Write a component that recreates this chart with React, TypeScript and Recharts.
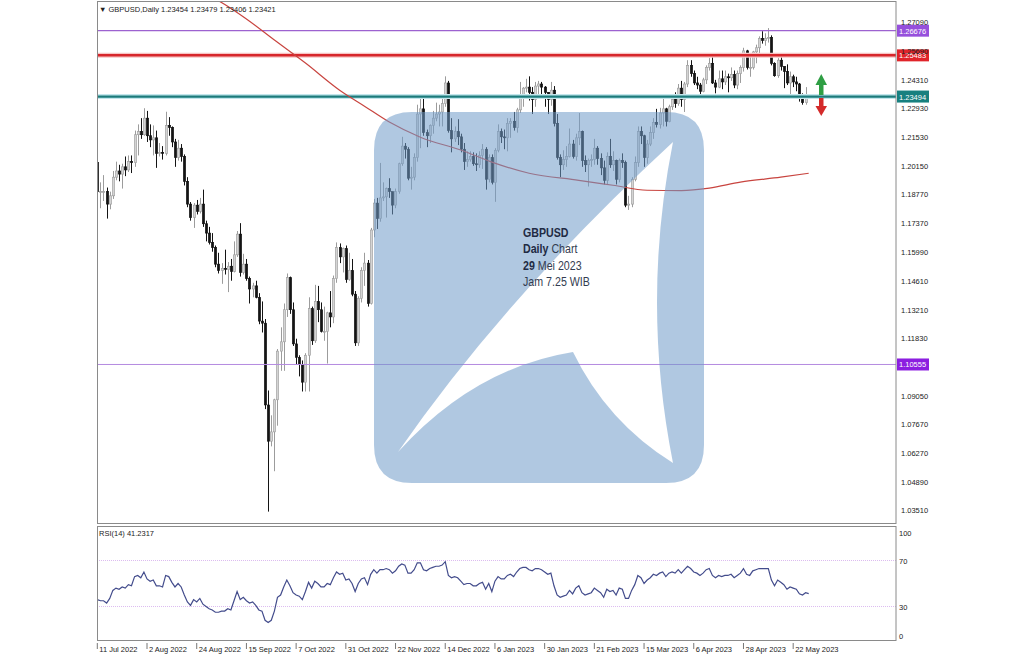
import React from 'react';
import { ComposedChart, Bar, Line, XAxis, YAxis, ReferenceLine } from 'recharts';

// GBPUSD daily bars, 11 Jul 2022 .. 29 May 2023 (bar index 0..229)
const opens = [
  1.2030, 1.1890, 1.1890, 1.1890, 1.1830, 1.1870, 1.1960, 1.1990, 1.1975, 1.2010,
  1.1995, 1.2035, 1.2030, 1.2165, 1.2180, 1.2165, 1.2245, 1.2160, 1.2140, 1.2150,
  1.2075, 1.2080, 1.2075, 1.2210, 1.2200, 1.2130, 1.2055, 1.2100, 1.2060, 1.1940,
  1.1830, 1.1765, 1.1825, 1.1795, 1.1830, 1.1735, 1.1690, 1.1645, 1.1620, 1.1540,
  1.1510, 1.1520, 1.1515, 1.1530, 1.1505, 1.1585, 1.1685, 1.1500, 1.1540, 1.1470,
  1.1420, 1.1435, 1.1380, 1.1265, 1.1255, 1.0860, 1.0685, 1.0730, 1.0885, 1.1120,
  1.1165, 1.1320, 1.1475, 1.1320, 1.1155, 1.1090, 1.1055, 1.0970, 1.1100, 1.1325,
  1.1170, 1.1360, 1.1320, 1.1215, 1.1215, 1.1305, 1.1285, 1.1470, 1.1620, 1.1575,
  1.1615, 1.1465, 1.1510, 1.1395, 1.1160, 1.1375, 1.1510, 1.1545, 1.1350, 1.1705,
  1.1835, 1.1760, 1.1860, 1.1865, 1.1905, 1.1890, 1.1825, 1.1890, 1.2025, 1.2110,
  1.2095, 1.1955, 1.1960, 1.2055, 1.2265, 1.2290, 1.2175, 1.2160, 1.2210, 1.2245,
  1.2265, 1.2275, 1.2315, 1.2415, 1.2185, 1.2145, 1.2180, 1.2155, 1.2095, 1.2035,
  1.2045, 1.2060, 1.2025, 1.2020, 1.2065, 1.2095, 1.1950, 1.2055, 1.1935, 1.2090,
  1.2180, 1.2155, 1.2150, 1.2220, 1.2230, 1.2200, 1.2285, 1.2350, 1.2390, 1.2395,
  1.2370, 1.2335, 1.2400, 1.2410, 1.2395, 1.2370, 1.2335, 1.2380, 1.2220, 1.2055,
  1.2020, 1.2045, 1.2060, 1.2120, 1.2060, 1.2150, 1.2180, 1.2040, 1.2020, 1.2040,
  1.2045, 1.2100, 1.2050, 1.2005, 1.1945, 1.2060, 1.2020, 1.2040, 1.1950, 1.2040,
  1.2030, 1.1825, 1.1830, 1.1950, 1.2030, 1.2180, 1.2160, 1.2055, 1.2120, 1.2175,
  1.2225, 1.2215, 1.2270, 1.2290, 1.2230, 1.2300, 1.2335, 1.2315, 1.2390, 1.2335,
  1.2410, 1.2500, 1.2460, 1.2415, 1.2405, 1.2375, 1.2430, 1.2490, 1.2510, 1.2415,
  1.2395, 1.2435, 1.2420, 1.2445, 1.2440, 1.2455, 1.2405, 1.2460, 1.2490, 1.2570,
  1.2490, 1.2490, 1.2565, 1.2585, 1.2630, 1.2620, 1.2630, 1.2635, 1.2510, 1.2450,
  1.2525, 1.2495, 1.2470, 1.2415, 1.2445, 1.2420, 1.2410, 1.2345, 1.2320, 1.23454,
];

const highs = [
  1.2045, 1.1935, 1.1970, 1.1910, 1.1890, 1.1990, 1.2035, 1.2020, 1.2025, 1.2060,
  1.2065, 1.2065, 1.2185, 1.2215, 1.2245, 1.2293, 1.2280, 1.2215, 1.2210, 1.2185,
  1.2125, 1.2110, 1.2276, 1.2250, 1.2205, 1.2145, 1.2140, 1.2120, 1.2070, 1.1960,
  1.1840, 1.1835, 1.1850, 1.1860, 1.1900, 1.1750, 1.1720, 1.1690, 1.1630, 1.1595,
  1.1545, 1.1610, 1.1550, 1.1565, 1.1650, 1.1700, 1.1738, 1.1590, 1.1565, 1.1480,
  1.1450, 1.1460, 1.1400, 1.1360, 1.1275, 1.0930, 1.0810, 1.0890, 1.1130, 1.1235,
  1.1350, 1.1495, 1.1480, 1.1355, 1.1180, 1.1100, 1.1075, 1.1110, 1.1380, 1.1335,
  1.1440, 1.1435, 1.1355, 1.1335, 1.1310, 1.1410, 1.1485, 1.1645, 1.1640, 1.1620,
  1.1630, 1.1595, 1.1565, 1.1410, 1.1385, 1.1525, 1.1595, 1.1560, 1.1715, 1.1855,
  1.1860, 1.2029, 1.1935, 1.1910, 1.1955, 1.1890, 1.1905, 1.2030, 1.2155, 1.2125,
  1.2105, 1.2010, 1.2075, 1.2310, 1.2345, 1.2345, 1.2190, 1.2215, 1.2280, 1.2320,
  1.2310, 1.2345, 1.2447, 1.2425, 1.2245, 1.2205, 1.2240, 1.2170, 1.2125, 1.2085,
  1.2085, 1.2080, 1.2075, 1.2085, 1.2120, 1.2105, 1.2070, 1.2070, 1.2100, 1.2215,
  1.2195, 1.2190, 1.2245, 1.2245, 1.2275, 1.2295, 1.2420, 1.2395, 1.2435, 1.2447,
  1.2395, 1.2420, 1.2425, 1.2420, 1.2400, 1.2370, 1.2420, 1.2400, 1.2265, 1.2070,
  1.2090, 1.2110, 1.2195, 1.2140, 1.2170, 1.2270, 1.2185, 1.2065, 1.2050, 1.2070,
  1.2145, 1.2110, 1.2075, 1.2040, 1.2080, 1.2145, 1.2085, 1.2045, 1.2050, 1.2075,
  1.2040, 1.1870, 1.1960, 1.2060, 1.2205, 1.2205, 1.2165, 1.2140, 1.2205, 1.2245,
  1.2290, 1.2295, 1.2345, 1.2295, 1.2310, 1.2345, 1.2370, 1.2410, 1.2425, 1.2420,
  1.2525, 1.2525, 1.2475, 1.2445, 1.2415, 1.2440, 1.2500, 1.2535, 1.2545, 1.2430,
  1.2475, 1.2475, 1.2475, 1.2460, 1.2490, 1.2475, 1.2475, 1.2500, 1.2585, 1.2575,
  1.2545, 1.2570, 1.2600, 1.2640, 1.2665, 1.2655, 1.2680, 1.2645, 1.2515, 1.2535,
  1.2545, 1.2495, 1.2505, 1.2470, 1.2455, 1.2445, 1.2415, 1.2365, 1.2395, 1.23479,
];

const lows = [
  1.1875, 1.1810, 1.1845, 1.1760, 1.1805, 1.1855, 1.1945, 1.1940, 1.1905, 1.1965,
  1.1985, 1.1980, 1.2010, 1.2065, 1.2145, 1.2160, 1.2130, 1.2105, 1.2065, 1.2005,
  1.2060, 1.2045, 1.2065, 1.2160, 1.2105, 1.2010, 1.2040, 1.2035, 1.1920, 1.1815,
  1.1750, 1.1715, 1.1780, 1.1785, 1.1720, 1.1650, 1.1635, 1.1600, 1.1525, 1.1495,
  1.1445, 1.1490, 1.1405, 1.1460, 1.1500, 1.1575, 1.1480, 1.1490, 1.1460, 1.1350,
  1.1380, 1.1375, 1.1250, 1.1210, 1.0840, 1.0345, 1.0660, 1.0540, 1.0760, 1.1025,
  1.1025, 1.1285, 1.1300, 1.1145, 1.1055, 1.0998, 1.0925, 1.0925, 1.0925, 1.1150,
  1.1160, 1.1260, 1.1210, 1.1170, 1.1060, 1.1235, 1.1255, 1.1450, 1.1545, 1.1500,
  1.1450, 1.1460, 1.1385, 1.1145, 1.1145, 1.1355, 1.1435, 1.1335, 1.1345, 1.1670,
  1.1710, 1.1745, 1.1845, 1.1765, 1.1860, 1.1780, 1.1810, 1.1880, 1.2015, 1.2050,
  1.1945, 1.1900, 1.1945, 1.2035, 1.2100, 1.2160, 1.2105, 1.2125, 1.2170, 1.2230,
  1.2205, 1.2205, 1.2300, 1.2175, 1.2080, 1.2130, 1.2115, 1.2080, 1.1995, 1.2010,
  1.2035, 1.2015, 1.1990, 1.2005, 1.2000, 1.1900, 1.1935, 1.1925, 1.1841, 1.2080,
  1.2125, 1.2095, 1.2085, 1.2150, 1.2185, 1.2175, 1.2270, 1.2300, 1.2370, 1.2330,
  1.2265, 1.2300, 1.2340, 1.2355, 1.2300, 1.2265, 1.2305, 1.2205, 1.2045, 1.1960,
  1.1995, 1.2010, 1.2055, 1.2050, 1.2040, 1.2115, 1.2010, 1.1985, 1.1915, 1.2010,
  1.2020, 1.2020, 1.1970, 1.1925, 1.1925, 1.2005, 1.1990, 1.1925, 1.1935, 1.2005,
  1.1815, 1.1802, 1.1815, 1.1940, 1.2010, 1.2120, 1.2010, 1.2025, 1.2110, 1.2145,
  1.2200, 1.2195, 1.2205, 1.2205, 1.2225, 1.2285, 1.2295, 1.2305, 1.2300, 1.2275,
  1.2395, 1.2445, 1.2405, 1.2385, 1.2345, 1.2370, 1.2410, 1.2475, 1.2410, 1.2365,
  1.2390, 1.2385, 1.2405, 1.2370, 1.2425, 1.2390, 1.2385, 1.2415, 1.2470, 1.2480,
  1.2445, 1.2480, 1.2510, 1.2550, 1.2605, 1.2595, 1.2610, 1.2500, 1.2445, 1.2440,
  1.2475, 1.2390, 1.2405, 1.2350, 1.2395, 1.2375, 1.2325, 1.2310, 1.2310, 1.23406,
];

const closes = [
  1.1890, 1.1890, 1.1890, 1.1830, 1.1870, 1.1960, 1.1990, 1.1975, 1.2010, 1.1995,
  1.2035, 1.2030, 1.2165, 1.2180, 1.2165, 1.2245, 1.2160, 1.2140, 1.2150, 1.2075,
  1.2080, 1.2075, 1.2210, 1.2200, 1.2130, 1.2055, 1.2100, 1.2060, 1.1940, 1.1830,
  1.1765, 1.1825, 1.1795, 1.1830, 1.1735, 1.1690, 1.1645, 1.1620, 1.1540, 1.1510,
  1.1520, 1.1515, 1.1530, 1.1505, 1.1585, 1.1685, 1.1500, 1.1540, 1.1470, 1.1420,
  1.1435, 1.1380, 1.1265, 1.1255, 1.0860, 1.0685, 1.0730, 1.0885, 1.1120, 1.1165,
  1.1320, 1.1475, 1.1320, 1.1155, 1.1090, 1.1055, 1.0970, 1.1100, 1.1325, 1.1170,
  1.1360, 1.1320, 1.1215, 1.1215, 1.1305, 1.1285, 1.1470, 1.1620, 1.1575, 1.1615,
  1.1465, 1.1510, 1.1395, 1.1160, 1.1375, 1.1510, 1.1545, 1.1350, 1.1705, 1.1835,
  1.1760, 1.1860, 1.1865, 1.1905, 1.1890, 1.1825, 1.1890, 1.2025, 1.2110, 1.2095,
  1.1955, 1.1960, 1.2055, 1.2265, 1.2290, 1.2175, 1.2160, 1.2210, 1.2245, 1.2265,
  1.2275, 1.2315, 1.2415, 1.2185, 1.2145, 1.2180, 1.2155, 1.2095, 1.2035, 1.2045,
  1.2060, 1.2025, 1.2020, 1.2065, 1.2095, 1.1950, 1.2055, 1.1935, 1.2090, 1.2180,
  1.2155, 1.2150, 1.2220, 1.2230, 1.2200, 1.2285, 1.2350, 1.2390, 1.2395, 1.2370,
  1.2335, 1.2400, 1.2410, 1.2395, 1.2370, 1.2335, 1.2380, 1.2220, 1.2055, 1.2020,
  1.2045, 1.2060, 1.2120, 1.2060, 1.2150, 1.2180, 1.2040, 1.2020, 1.2040, 1.2045,
  1.2100, 1.2050, 1.2005, 1.1945, 1.2060, 1.2020, 1.2040, 1.1950, 1.2040, 1.2030,
  1.1825, 1.1830, 1.1950, 1.2030, 1.2180, 1.2160, 1.2055, 1.2120, 1.2175, 1.2225,
  1.2215, 1.2270, 1.2290, 1.2230, 1.2300, 1.2335, 1.2315, 1.2390, 1.2335, 1.2410,
  1.2500, 1.2460, 1.2415, 1.2405, 1.2375, 1.2430, 1.2490, 1.2510, 1.2415, 1.2395,
  1.2435, 1.2420, 1.2445, 1.2440, 1.2455, 1.2405, 1.2460, 1.2490, 1.2570, 1.2490,
  1.2490, 1.2565, 1.2585, 1.2630, 1.2620, 1.2630, 1.2635, 1.2510, 1.2450, 1.2525,
  1.2495, 1.2470, 1.2415, 1.2445, 1.2420, 1.2410, 1.2345, 1.2320, 1.2345, 1.23421,
];

const rsi14 = [
  36, 35, 35, 33, 37, 44, 46, 45, 47, 46,
  49, 48, 56, 57, 55, 60, 54, 52, 53, 48,
  48, 47, 57, 56, 51, 47, 50, 47, 40, 34,
  31, 36, 34, 37, 32, 30, 28, 27, 25, 25,
  26, 26, 28, 27, 35, 43, 36, 38, 35, 33,
  34, 31, 27, 26, 18, 16, 18, 26, 38, 40,
  47, 53, 48, 42, 40, 39, 36, 43, 51, 46,
  52, 50, 47, 47, 50, 49, 55, 60, 58, 59,
  53, 54, 50, 43, 50, 54, 55, 49, 58, 62,
  59, 62, 62, 63, 62, 59, 61, 65, 67, 66,
  59, 59, 62, 68, 68, 62, 61, 63, 64, 65,
  65, 66, 69, 57, 55, 56, 55, 52, 49, 50,
  50, 48, 48, 50, 51, 45, 50, 43, 52, 56,
  54, 54, 57, 58, 56, 60, 63, 64, 64, 62,
  61, 63, 63, 62, 60, 58, 59, 48, 40, 38,
  39, 40, 44, 41, 46, 48, 42, 40, 41, 42,
  46, 44, 42, 38, 45, 43, 44, 40, 46, 45,
  37, 37, 44, 49, 57, 55, 50, 53, 55, 58,
  57, 59, 60, 56, 59, 60, 59, 62, 59, 62,
  65, 63, 60, 59, 57, 59, 62, 63, 57, 55,
  57, 56, 57, 57, 58, 55, 57, 59, 63, 58,
  57, 61, 62, 63, 63, 63, 63, 53, 48, 53,
  51, 49, 45, 47, 46, 45, 41, 40, 42, 41.2317,
];

// 200-day moving average, sampled along the bars
const maBars = [36, 39, 48, 57, 67, 78, 86, 94, 104, 117, 127, 139, 155, 166, 177, 188, 197, 207, 220, 229];
const maValues = [
  1.2835, 1.2812, 1.2724, 1.2622, 1.2511, 1.2380, 1.2303, 1.2226, 1.2153, 1.2091,
  1.2033, 1.1979, 1.1945, 1.1921, 1.1897, 1.1895, 1.1907, 1.1936, 1.1960, 1.1979,
];

const dateLabels = [
  '11 Jul 2022', '2 Aug 2022', '24 Aug 2022', '15 Sep 2022', '7 Oct 2022', '31 Oct 2022',
  '22 Nov 2022', '14 Dec 2022', '6 Jan 2023', '30 Jan 2023', '21 Feb 2023', '15 Mar 2023',
  '6 Apr 2023', '28 Apr 2023', '22 May 2023',
];
const dateTickBars = [0, 16, 32, 48, 64, 80, 96, 112, 128, 144, 160, 176, 192, 208, 224];

const priceTicks = [
  1.2709, 1.2569, 1.2431, 1.2293, 1.2153, 1.2015, 1.1877, 1.1737, 1.1599,
  1.1461, 1.1321, 1.1183, 1.0905, 1.0767, 1.0627, 1.0489, 1.0351,
];
const rsiTicks = [0, 30, 70, 100];

const upperLevel = 1.26676;
const resistance = 1.25483;
const support = 1.23494;
const lowerLevel = 1.10555;

const FONT = '"Liberation Sans", Arial, sans-serif';
const X_DOMAIN: [number, number] = [-0.1, 257.1];
const PRICE_DOMAIN: [number, number] = [1.029, 1.2806];

const rows = closes.map((close, i) => ({
  i,
  open: opens[i],
  high: highs[i],
  low: lows[i],
  close,
  rsi: rsi14[i],
  ma: undefined as number | undefined,
}));
maBars.forEach((bar, k) => {
  rows[bar].ma = maValues[k];
});

const Candle = (props: any) => {
  const { x, y, width, height, payload } = props;
  if (!payload) return null;
  const { open, close, high, low } = payload;
  const top = height < 0 ? y + height : y;
  const span = Math.abs(height);
  const k = span / (high - low || 1);
  const cx = Math.round(x + width / 2) + 0.5;
  const yOpen = top + (high - open) * k;
  const yClose = top + (high - close) * k;
  const bull = close >= open;
  const ink = bull ? '#9c9c9c' : '#141414';
  const bodyTop = Math.min(yOpen, yClose);
  const bodyH = Math.max(Math.abs(yClose - yOpen), 0.8);
  return (
    <g>
      <line x1={cx} x2={cx} y1={top} y2={top + span} stroke={ink} strokeWidth={1} />
      <rect x={cx - 1.2} y={bodyTop} width={2.4} height={bodyH} fill={bull ? '#d4d4d4' : '#141414'} stroke={ink} strokeWidth={0.6} />
    </g>
  );
};

const PriceTick = ({ x, y, payload }: any) => (
  <text x={x + 3} y={y + 3} fontSize={7.5} fill="#222" fontFamily={FONT}>
    {Number(payload.value).toFixed(5)}
  </text>
);

// RSI scale labels stay inside the panel, like the terminal draws them
const RsiTick = ({ x, y, payload }: any) => {
  const cy = Math.min(Math.max(y, 9), 112);
  return (
    <text x={x + 1} y={cy + 3} fontSize={7.5} fill="#222" fontFamily={FONT}>
      {payload.value}
    </text>
  );
};

const DateTick = ({ x, y, payload }: any) => {
  const k = dateTickBars.indexOf(payload.value);
  return (
    <g>
      <line x1={x} x2={x} y1={y} y2={y + 6} stroke="#777" strokeWidth={1} />
      <text x={x + 2} y={y + 9} fontSize={7.5} fill="#222" fontFamily={FONT}>
        {dateLabels[k]}
      </text>
    </g>
  );
};

const priceTag = (text: string, fill: string) => (props: any) => {
  const vb = props.viewBox || {};
  const right = (vb.x || 0) + (vb.width || 0);
  const y = vb.y || 0;
  return (
    <g>
      <rect x={right + 1} y={y - 6} width={32} height={12} fill={fill} />
      <text x={right + 3} y={y + 3} fontSize={7.5} fill="#fff" fontFamily={FONT}>
        {text}
      </text>
    </g>
  );
};

// watermark: rounded square with an arrow cut out of it
const logoPath =
  'M412,112 H666 Q704,112 704,150 V445 Q704,483 666,483 H412 Q374,483 374,445 V150 Q374,112 412,112 Z ' +
  'M673,142 Q505,297 398,452 Q474,368 573,352 Q607,422 673,463 Q641,302 673,142 Z';

const Overlay = () => (
  <svg width={1028} height={657} style={{ position: 'absolute', left: 0, top: 0, pointerEvents: 'none' }}>
    <rect x={97.5} y={1.5} width={798.5} height={522} fill="none" stroke="#8a8a8a" strokeWidth={1} />
    <rect x={97.5} y={526.5} width={798.5} height={114} fill="none" stroke="#8a8a8a" strokeWidth={1} />
    <path d={logoPath} fill="#6f9bc9" fillOpacity={0.55} fillRule="evenodd" />
    <g fontFamily={FONT} fontSize={13} fill="#1f2b44">
      <text transform="translate(523,236.5) scale(0.82,1)" fontWeight="bold">GBPUSD</text>
      <text transform="translate(523,253) scale(0.82,1)">
        <tspan fontWeight="bold">Daily</tspan>
        <tspan fill="#333c50"> Chart</tspan>
      </text>
      <text transform="translate(523,269.5) scale(0.82,1)">
        <tspan fontWeight="bold">29</tspan>
        <tspan fill="#333c50"> Mei 2023</tspan>
      </text>
      <text transform="translate(523,286) scale(0.82,1)" fill="#333c50">Jam 7.25 WIB</text>
    </g>
    <g>
      <rect x={819} y={84} width={4.5} height={11} fill="#2f9e44" />
      <polygon points="815.5,85 821.25,74 827,85" fill="#2f9e44" />
      <rect x={819} y={98} width={4.5} height={9} fill="#d42a2a" />
      <polygon points="815.5,106 821.25,116 827,106" fill="#d42a2a" />
    </g>
    <text x={99} y={12} fontSize={7.5} fill="#222" fontFamily={FONT}>
      ▼ GBPUSD,Daily  1.23454 1.23479 1.23406 1.23421
    </text>
    <text x={99} y={536} fontSize={7.5} fill="#222" fontFamily={FONT}>
      RSI(14) 41.2317
    </text>
  </svg>
);

export default function App() {
  return (
    <div style={{ position: 'absolute', left: 0, top: 0, width: 1028, height: 657, background: '#fff', overflow: 'hidden' }}>
      <div style={{ position: 'absolute', left: 0, top: 0 }}>
        <ComposedChart width={1028} height={525} data={rows} margin={{ top: 2, right: 0, bottom: 2, left: 97 }}>
          <XAxis dataKey="i" type="number" domain={X_DOMAIN} hide allowDataOverflow />
          <YAxis
            orientation="right"
            width={132}
            domain={PRICE_DOMAIN}
            allowDataOverflow
            ticks={priceTicks}
            interval={0}
            tick={<PriceTick />}
            tickLine={false}
            axisLine={false}
            tickSize={0}
          />
          <ReferenceLine y={lowerLevel} stroke="#b48ae0" strokeWidth={1} label={priceTag('1.10555', '#8c1ee0')} />
          <ReferenceLine y={support} stroke="#c3e6ec" strokeWidth={5} />
          <ReferenceLine y={support} stroke="#1b7b7b" strokeWidth={2.2} label={priceTag('1.23494', '#17807f')} />
          <ReferenceLine y={resistance} stroke="#f6c4c4" strokeWidth={5} />
          <ReferenceLine y={resistance} stroke="#d7262b" strokeWidth={2.5} label={priceTag('1.25483', '#e0242a')} />
          <ReferenceLine y={upperLevel} stroke="#9d62d0" strokeWidth={1.3} label={priceTag('1.26676', '#9650dc')} />
          <Bar
            dataKey={(d: any) => [d.low, d.high]}
            barSize={3}
            shape={(p: any) => <Candle {...p} />}
            isAnimationActive={false}
          />
          <Line dataKey="ma" type="monotone" connectNulls dot={false} stroke="#c8443f" strokeWidth={1.2} isAnimationActive={false} />
        </ComposedChart>
      </div>
      <div style={{ position: 'absolute', left: 0, top: 524 }}>
        <ComposedChart width={1028} height={133} data={rows} margin={{ top: 2, right: 0, bottom: 0, left: 97 }}>
          <XAxis
            dataKey="i"
            type="number"
            domain={X_DOMAIN}
            allowDataOverflow
            ticks={dateTickBars}
            interval={0}
            height={16}
            tick={<DateTick />}
            tickLine={false}
            axisLine={false}
            tickSize={0}
          />
          <YAxis
            orientation="right"
            width={132}
            domain={[0, 100]}
            ticks={rsiTicks}
            interval={0}
            tick={<RsiTick />}
            tickLine={false}
            axisLine={false}
            tickSize={0}
          />
          <ReferenceLine y={70} stroke="#dcbcf0" strokeDasharray="1 1" />
          <ReferenceLine y={30} stroke="#dcbcf0" strokeDasharray="1 1" />
          <Line dataKey="rsi" type="linear" dot={false} stroke="#434c8c" strokeWidth={1.2} isAnimationActive={false} />
        </ComposedChart>
      </div>
      <Overlay />
    </div>
  );
}
